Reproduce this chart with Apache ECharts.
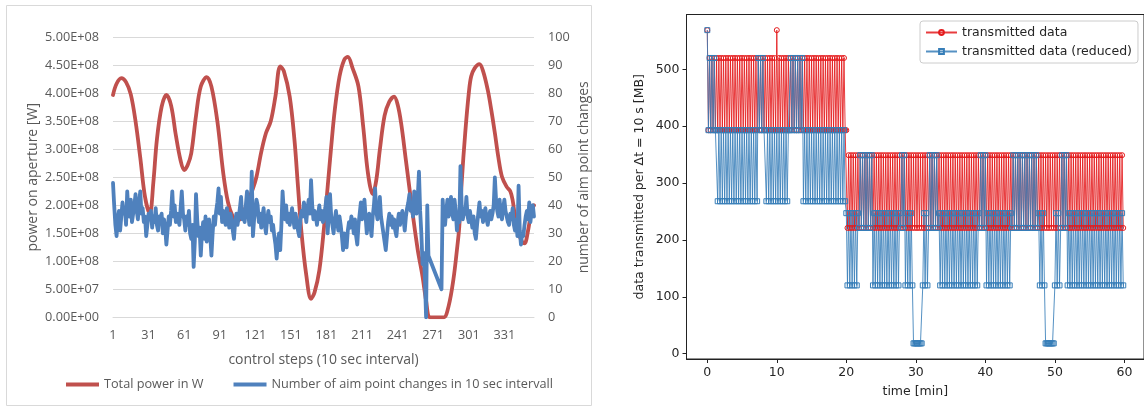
<!DOCTYPE html>
<html>
<head>
<meta charset="utf-8">
<script src="https://cdn.jsdelivr.net/npm/echarts@6/dist/echarts.min.js"></script>
<style>
	html, body { margin: 0; padding: 0; background: #fff; }
	#chart { width: 1144px; height: 407px; }
</style>
</head>
<body>
<div id="chart"></div>
<script>
// left panel: power on aperture (x = control step index, 0-based)
const powerSteps = [0, 3, 7, 11, 15, 19, 23, 27, 31, 34, 37, 41, 45, 49, 53, 57, 60, 63, 66, 70, 74, 79, 83, 88, 93, 97, 101, 105, 109, 114, 118, 121, 125, 129, 133, 137, 141, 144, 149, 153, 156, 159, 163, 167, 170, 174, 178, 181, 184, 187, 191, 195, 198, 202, 207, 211, 215, 219, 222, 225, 229, 233, 237, 240, 243, 247, 250, 253, 257, 261, 264, 267, 271, 275, 279, 283, 287, 290, 292, 294, 297, 300, 302, 305, 309, 312, 316, 319, 322, 325, 328, 332, 335, 337, 339, 342, 345, 347, 350, 353, 355];
// total power, in 1E+08 W
const powerE8 = [3.97, 4.17, 4.27, 4.2, 3.98, 3.5, 2.85, 2.15, 1.85, 2.4, 3.17, 3.76, 3.97, 3.78, 3.25, 2.8, 2.63, 2.72, 2.93, 3.6, 4.12, 4.29, 4.12, 3.5, 2.57, 2.05, 1.8, 1.72, 1.82, 2.09, 2.3, 2.51, 2.95, 3.29, 3.5, 3.95, 4.48, 4.4, 3.94, 3.17, 2.33, 1.5, 0.75, 0.33, 0.45, 0.84, 1.62, 2.33, 3.05, 3.7, 4.3, 4.6, 4.65, 4.45, 4.12, 3.4, 2.57, 2.2, 2.45, 2.99, 3.6, 3.85, 3.94, 3.8, 3.46, 2.8, 2.3, 1.8, 1.2, 0.73, 0.3, 0, 0, 0, 0, 0.2, 0.67, 1.2, 1.62, 2.4, 3.29, 4.0, 4.3, 4.45, 4.52, 4.4, 4.06, 3.7, 3.29, 2.85, 2.51, 2.33, 2.25, 2.09, 1.8, 1.5, 1.35, 1.32, 1.55, 1.92, 2.0];
// aim point changes per step (null = no value, connected by a straight line)
const aimChanges = [
	48, 40, 33, 29, 35, 38, 31, 36, 41, 37, 39, 33, 45, 38, 36, 42, 34, 37, 40, 44,
	38, 35, 41, 45, 37, 39, 34, 36, 29, 33, 37, 35, 38, 32, 36, 34, 39, 33, 31, 36,
	34, 37, 30, 35, 32, 26, 31, 36, 33, 38, 45, 36, 40, 34, 37, 35, 33, 39, 45, 37,
	35, 31, 36, 33, 38, 30, 28, 33, 18, 27, 44, 35, 29, 32, 22, 30, 34, 28, 36, 27,
	31, 35, 29, 22, 30, 36, 33, 38, 41, 46, 37, 43, 34, 38, 35, 33, 39, 36, 32, 37,
	35, 31, 28, 34, 37, 33, 36, 39, 43, 35, 38, 34, 40, 45, 37, 33, 36, 52, 29, 35,
	38, 42, 40, 34, 37, 32, 36, 39, 33, 30, 35, 38, 34, 36, 31, 33, 29, 26, 21, 27,
	30, 24, 33, 45, 38, 35, 40, 34, 37, 33, 36, 39, 35, 32, 37, 34, 31, 29, 35, 38,
	36, 41, 38, 34, 39, 42, 37, 49, 40, 35, 38, 36, 33, 37, 40, 35, 38, 34, 36, 39,
	43, 30, 37, 44, 36, 33, 30, 35, 38, 34, 31, 36, 33, 29, 24, 30, 27, 25, 31, 34,
	32, 36, 34, 30, 35, 29, 26, 33, 37, 41, 35, 38, 42, 36, 30, 34, 37, 33, 29, 36,
	40, 46, 38, 35, 37, 43, 36, 33, 30, 27, 24, 29, 34, 37, 33, 36, 32, 35, 31, 29,
	34, 37, 33, 36, 38, 35, 31, 36, 39, 41, 44, 38, 40, 36, 45, 41, 37, 43, 52, 38,
	30, 19, 23, 14, 0, 40, 22, null, null, null, null, null, null, null, null, null, null, 10, 42, 35,
	33, 38, 42, 36, 39, 43, 37, 35, 42, 38, 31, 36, 34, 54, 40, 35, 38, 37, 43, 36,
	34, 38, 35, 32, 36, 30, 28, 33, 37, 41, 36, 38, 34, 37, 39, 35, 33, 36, 38, 35,
	37, 40, 50, 42, 38, 36, 42, 37, 35, 39, 42, 38, 36, 34, 33, 37, 35, 39, 33, 31,
	35, 29, 47, 31, 26, 30, 29, 33, 36, 38, 35, 41, 34, 38, 40, 36
];
const stepTicks = [0, 30, 60, 90, 120, 150, 180, 210, 240, 270, 300, 330];

// right panel: one code letter per 10 s step, letters map to MB values
const dataLevels = { S: 569, A: 520, B: 393, C: 268, D: 349, E: 247, F: 221, G: 120, H: 18 };
const transmittedCodes = [
	'S BABABABABA BABABABABA BABABABABA BABABABABA BABABABABA BABABABA B',
	'S BABABABABA BABABABABA BABABABABA BABABABABA BABABABABA BABABABA B',
	'B FDFDFDFDFD FDFDFDFDFD FDFDFDFDFD FDFDFDFDFD FDFDFDFDFD FDFDFDFD F',
	'DFDFDFDFDF DFDFDFDFDF DFDFDFDFDF DFDFDFDFDF DFDFDFDFDF DFDFDFDFDF',
	'DFDFDFDFDF DFDFDFDFDF DFDFDFDFDF DFDFDFDFDF DFDFDFDFDF DFDFDFDFDF',
	'DFDFDFDFDF DFDFDFDFDF DFDFDFDFDF DFDFDFDFDF DFDFDFDFDF DFDFDFDFDF'
];
const reducedCodes = [
	'S BABABAB BCBCBCBCBC BCBCBCBCBC BCBCBCBCBC BCBCBC ABABAB BCBCBCBCBC',
	'BCBCBCBCBC B BABABABABABA C BCBCBCBCBC BCBCBCBCBC BCBCBCBCBC BCBCBC',
	'EGEGEGEGEG E FDFDFDFDFDFD GEGEGEGEGE GEGEGEGEGE GEGE FDFD GEGEGEG HH',
	'HHHHHH GEGEG FDFDFDFD F EGEGEGEGEG EGEGEGEGEG EGEGEGEGEG EGEG E FDFDF',
	'D GEGEGEGEGE GEGEGEGEGE GE FDFDFDFDFD FDFDFDFDFD FD F EGEGEG HHHHHHHH',
	'GEGEG FDFDFD GEGEGEGEGE GEGEGEGEGE GEGEGEGEGE GEGEGEGEGE GEGEGEGE G'
];
const timeTicks = [0, 10, 20, 30, 40, 50, 60];
const dataTicks = [0, 100, 200, 300, 400, 500];

const excelRed = '#C0504D';
const excelBlue = '#4F81BD';
const excelText = '#595959';
const mplRed = '#e41a1c';
const mplBlue = '#377eb8';
const mplText = '#262626';

const sciLabel = (v) => v.toExponential(2).replace(/e\+(\d)$/, 'E+0$1').replace('e+', 'E+');
const toTimeSeries = (rows) => rows.join('').replace(/ /g, '').split('').map((c, i) => [i / 6, dataLevels[c]]);

const myChart = echarts.init(document.getElementById('chart'), null, { renderer: 'canvas' });
myChart.setOption({
	animation: false,
	graphic: [{
		type: 'rect',
		shape: { x: 6.5, y: 5.5, width: 585, height: 400 },
		style: { fill: 'none', stroke: '#d9d9d9', lineWidth: 1 },
		silent: true
	}],
	legend: [{
		data: ['Total power in W', 'Number of aim point changes in 10 sec intervall'],
		left: 66,
		top: 378,
		padding: 0,
		icon: 'rect',
		itemWidth: 33,
		itemHeight: 4,
		itemGap: 30,
		textStyle: { fontFamily: 'Open Sans', fontSize: 12.7, color: excelText }
	}, {
		data: ['transmitted data', 'transmitted data (reduced)'],
		orient: 'vertical',
		left: 920,
		top: 21,
		padding: [4, 6, 4, 5],
		itemWidth: 31,
		itemHeight: 6,
		itemGap: 4,
		backgroundColor: 'rgba(255,255,255,0.85)',
		borderColor: '#cccccc',
		borderWidth: 1,
		borderRadius: 3,
		textStyle: { fontFamily: 'DejaVu Sans', fontSize: 12.5, color: mplText, lineHeight: 15 }
	}],
	grid: [{
		left: 113, top: 37.3, right: 610, height: 280
	}, {
		left: 686.5, top: 14.5, width: 463.8, height: 344.5,
		show: true, borderColor: '#222', borderWidth: 1, backgroundColor: 'transparent'
	}],
	xAxis: [{
		gridIndex: 0,
		type: 'value',
		min: 0,
		max: 355,
		name: 'control steps (10 sec interval)',
		nameLocation: 'middle',
		nameGap: 36,
		nameTextStyle: { fontFamily: 'Open Sans', fontSize: 14, color: excelText },
		axisLine: { show: true, lineStyle: { color: '#d9d9d9' } },
		axisTick: { show: false },
		splitLine: { show: false },
		axisLabel: {
			customValues: stepTicks,
			formatter: (v) => String(v + 1),
			margin: 12,
			fontFamily: 'Open Sans', fontSize: 12.7, color: excelText
		}
	}, {
		gridIndex: 1,
		type: 'value',
		min: -2.99,
		max: 62.82,
		name: 'time [min]',
		nameLocation: 'middle',
		nameGap: 26,
		nameTextStyle: { fontFamily: 'DejaVu Sans', fontSize: 12.5, color: mplText },
		axisLine: { show: true, onZero: false, lineStyle: { color: '#222' } },
		axisTick: { show: true, length: 4, customValues: timeTicks, lineStyle: { color: '#222' } },
		splitLine: { show: false },
		axisLabel: {
			customValues: timeTicks,
			margin: 7,
			fontFamily: 'DejaVu Sans', fontSize: 12.5, color: mplText
		}
	}],
	yAxis: [{
		gridIndex: 0,
		type: 'value',
		min: 0,
		max: 5e8,
		interval: 5e7,
		name: 'power on aperture [W]',
		nameLocation: 'middle',
		nameGap: 73,
		nameRotate: 90,
		nameTextStyle: { fontFamily: 'Open Sans', fontSize: 14, color: excelText },
		axisLine: { show: false },
		axisTick: { show: false },
		splitLine: { show: true, lineStyle: { color: '#d9d9d9', width: 1 } },
		axisLabel: {
			formatter: sciLabel,
			margin: 14,
			fontFamily: 'Open Sans', fontSize: 12.7, color: excelText
		}
	}, {
		gridIndex: 0,
		type: 'value',
		position: 'right',
		min: 0,
		max: 100,
		interval: 10,
		name: 'number of aim point changes',
		nameLocation: 'middle',
		nameGap: 43,
		nameRotate: 90,
		nameTextStyle: { fontFamily: 'Open Sans', fontSize: 14, color: excelText },
		axisLine: { show: false },
		axisTick: { show: false },
		splitLine: { show: false },
		axisLabel: {
			margin: 14,
			fontFamily: 'Open Sans', fontSize: 12.7, color: excelText
		}
	}, {
		gridIndex: 1,
		type: 'value',
		min: -9.5,
		max: 596.5,
		name: 'data transmitted per Δt = 10 s [MB]',
		nameLocation: 'middle',
		nameGap: 40,
		nameRotate: 90,
		nameTextStyle: { fontFamily: 'DejaVu Sans', fontSize: 12.5, color: mplText },
		axisLine: { show: true, onZero: false, lineStyle: { color: '#222' } },
		axisTick: { show: true, length: 4, customValues: dataTicks, lineStyle: { color: '#222' } },
		splitLine: { show: false },
		axisLabel: {
			customValues: dataTicks,
			margin: 7,
			fontFamily: 'DejaVu Sans', fontSize: 12.5, color: mplText
		}
	}],
	series: [{
		name: 'Total power in W',
		type: 'line',
		xAxisIndex: 0,
		yAxisIndex: 0,
		data: powerSteps.map((s, i) => [s, powerE8[i] * 1e8]),
		smooth: 0.35,
		showSymbol: false,
		lineStyle: { color: excelRed, width: 3.8, cap: 'round', join: 'round' },
		itemStyle: { color: excelRed },
		emphasis: { disabled: true }
	}, {
		name: 'Number of aim point changes in 10 sec intervall',
		type: 'line',
		xAxisIndex: 0,
		yAxisIndex: 1,
		data: aimChanges.map((v, i) => [i, v]),
		connectNulls: true,
		showSymbol: false,
		lineStyle: { color: excelBlue, width: 3.8, cap: 'round', join: 'round' },
		itemStyle: { color: excelBlue },
		emphasis: { disabled: true }
	}, {
		name: 'transmitted data',
		type: 'line',
		xAxisIndex: 1,
		yAxisIndex: 2,
		data: toTimeSeries(transmittedCodes),
		symbol: 'circle',
		symbolSize: 5,
		showAllSymbol: true,
		lineStyle: { color: mplRed, width: 1, opacity: 0.85 },
		itemStyle: { color: 'rgba(255,255,255,0)', borderColor: mplRed, borderWidth: 1 },
		emphasis: { disabled: true }
	}, {
		name: 'transmitted data (reduced)',
		type: 'line',
		xAxisIndex: 1,
		yAxisIndex: 2,
		data: toTimeSeries(reducedCodes),
		symbol: 'rect',
		symbolSize: 5,
		showAllSymbol: true,
		lineStyle: { color: mplBlue, width: 1, opacity: 0.85 },
		itemStyle: { color: 'rgba(255,255,255,0)', borderColor: mplBlue, borderWidth: 1 },
		emphasis: { disabled: true }
	}]
});
</script>
</body>
</html>
